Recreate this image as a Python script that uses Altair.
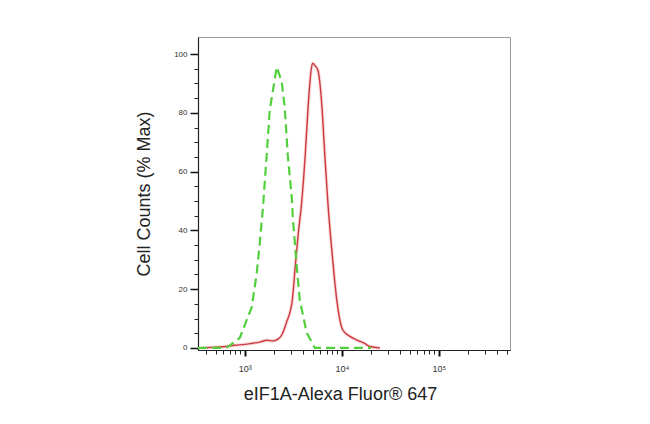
import altair as alt
import pandas as pd

# Isotype control (green dashed)
green_x = [330, 550, 668, 888, 1181, 1330, 1428, 1534, 1686, 1810, 2138, 2405,
           2584, 2776, 3053, 3125, 3436, 3690, 4357, 5268, 8000, 20000]
green_y = [0, 0, 0.3, 3.4, 13.9, 25.5, 35.7, 47.0, 66.0, 81.0, 95.6, 90.5,
           81.6, 65.6, 51.0, 44.6, 27.6, 16.3, 5.1, 0, 0, 0]

# eIF1A sample (red solid)
red_x = [360, 450, 600, 788, 1000, 1200, 1428, 1700, 1944, 2200, 2405, 2680, 3090, 3316,
         3561, 3870, 4205, 4515, 4850, 5024, 5200, 5660, 6221, 6680, 7174, 7887, 8876,
         10230, 12000, 14280, 17000, 19450, 24650]
red_y = [0, 0.2, 0.4, 0.9, 1.2, 1.6, 2.0, 2.6, 2.4, 3.0, 4.4, 8.5, 16.3, 28.0,
         39.0, 50.0, 66.0, 83.0, 95.0, 96.9, 96.3, 94.6, 82.7, 65.6, 49.7, 33.3, 16.3,
         6.1, 4.0, 2.7, 1.6, 0.5, 0]

x_major = [1000, 10000, 100000]
x_minor = [400, 500, 600, 700, 800, 900,
           2000, 3000, 4000, 5000, 6000, 7000, 8000, 9000,
           20000, 30000, 40000, 50000, 60000, 70000, 80000, 90000,
           200000, 300000, 400000, 500000]
y_major = [0, 20, 40, 60, 80, 100]
y_minor = [5, 10, 15, 25, 30, 35, 45, 50, 55, 65, 70, 75, 85, 90, 95]

green = pd.DataFrame({"x": green_x, "y": green_y})
red = pd.DataFrame({"x": red_x, "y": red_y})

FONT = "Liberation Sans"
xscale = alt.Scale(type="log", domain=[330, 540000], nice=False)
yscale = alt.Scale(domain=[-0.7, 105.8], nice=False, zero=False)

minor_x_axis = alt.Axis(values=x_minor, labels=False, title=None, domain=False, grid=False,
                        tickSize=4, tickColor="#222", orient="bottom")
minor_y_axis = alt.Axis(values=y_minor, labels=False, title=None, domain=False, grid=False,
                        tickSize=4, tickColor="#222", orient="left")

major_x_axis = alt.Axis(values=x_major, grid=False, tickSize=6, tickWidth=2, tickColor="#111",
                        domainColor="#222", domainWidth=1.2, orient="bottom",
                        labelExpr="datum.value == 1000 ? '10³' : datum.value == 10000 ? '10⁴' : '10⁵'",
                        labelFontSize=9, labelColor="#333", labelFont=FONT, labelPadding=8,
                        title="eIF1A-Alexa Fluor® 647", titleFont=FONT, titleFontSize=18,
                        titleFontWeight="normal", titleColor="#222", titlePadding=12,
                        titleX=142, titleAlign="center")
major_y_axis = alt.Axis(values=y_major, grid=False, tickSize=8, tickWidth=1.5, tickColor="#111",
                        domainColor="#222", domainWidth=1.2, orient="left",
                        labelFontSize=8, labelColor="#333", labelFont=FONT, labelPadding=3,
                        title="Cell Counts (% Max)", titleFont=FONT, titleFontSize=18,
                        titleFontWeight="normal", titleColor="#222", titlePadding=20)

halo = alt.Chart(red).mark_line(color="#f0a8a8", strokeWidth=3.5, opacity=0.4,
                                interpolate="monotone").encode(
    x=alt.X("x:Q", scale=xscale, axis=minor_x_axis),
    y=alt.Y("y:Q", scale=yscale, axis=minor_y_axis),
)
red_line = alt.Chart(red).mark_line(color="#cc3a40", strokeWidth=1.4,
                                    interpolate="monotone").encode(
    x=alt.X("x:Q", scale=xscale, axis=major_x_axis),
    y=alt.Y("y:Q", scale=yscale, axis=major_y_axis),
)
green_line = alt.Chart(green).mark_line(color="#52cf3c", strokeWidth=2.2,
                                        strokeDash=[9, 5]).encode(
    x=alt.X("x:Q", scale=xscale, axis=None),
    y=alt.Y("y:Q", scale=yscale, axis=None),
)

chart = alt.layer(halo, red_line, green_line).resolve_scale(
    x="shared", y="shared"
).resolve_axis(
    x="independent", y="independent"
).properties(
    width=312, height=313,
    autosize=alt.AutoSizeParams(type="none"),
    padding={"left": 190, "top": 29, "right": 10, "bottom": 60},
    background="white",
).configure_view(
    stroke="#9a9a9a", strokeWidth=1
)

chart.save("out.html", embed_options={"renderer": "svg", "actions": False})
